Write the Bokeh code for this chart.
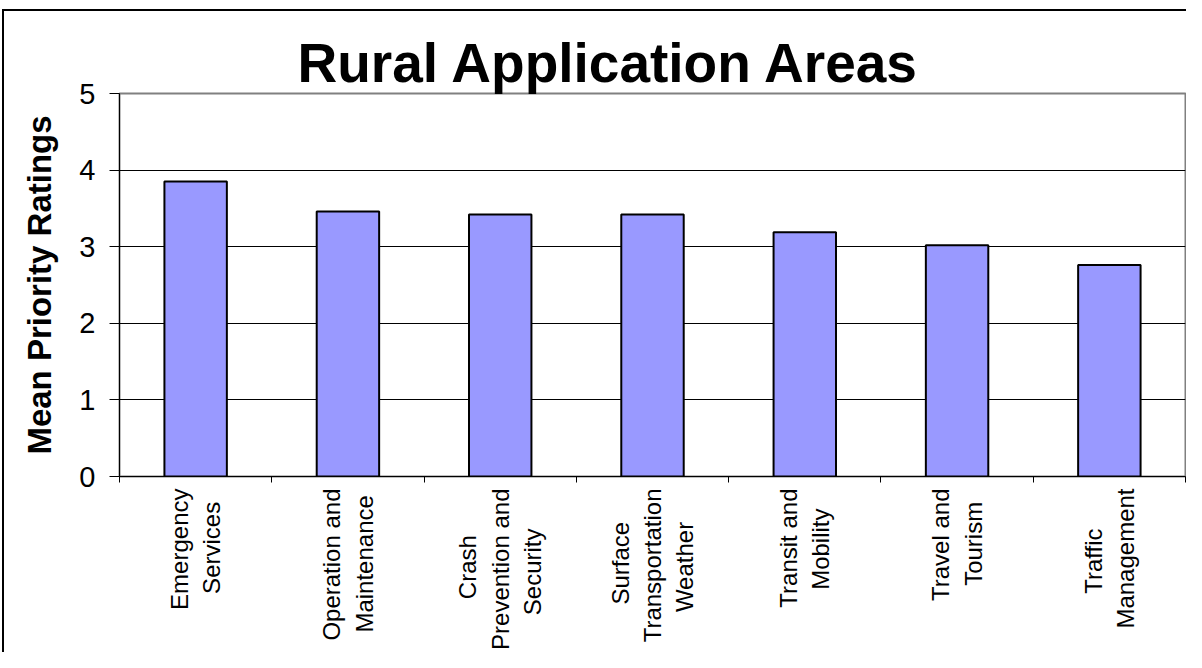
import numpy as np
from bokeh.plotting import figure
from bokeh.models import Range1d, FixedTicker, ColumnDataSource
from bokeh.embed import file_html
from bokeh.resources import INLINE

title_text = "Rural Application Areas"
y_title = "Mean Priority Ratings"
categories = [
    "Emergency\nServices",
    "Operation and\nMaintenance",
    "Crash\nPrevention and\nSecurity",
    "Surface\nTransportation\nWeather",
    "Transit and\nMobility",
    "Travel and\nTourism",
    "Traffic\nManagement",
]
values = [3.85, 3.46, 3.42, 3.42, 3.19, 3.02, 2.76]
y_ticks = [0, 1, 2, 3, 4, 5]

n = len(categories)
xs = np.arange(n) + 0.5

# Approximate Arial / Liberation Sans advance widths (1/1000 em), used only to
# centre the lines of the multi-line rotated tick labels within each block.
_W = {"a": 556, "b": 556, "c": 500, "d": 556, "e": 556, "f": 278, "g": 556, "h": 556,
      "i": 222, "l": 222, "m": 833, "n": 556, "o": 556, "p": 556, "r": 333, "s": 500,
      "t": 278, "u": 556, "v": 500, "y": 500, "C": 722, "E": 667, "M": 833, "O": 778,
      "P": 667, "S": 667, "T": 611, "W": 944, " ": 278}
NBSP = "\u00a0"


def centred(label):
    lines = label.split("\n")
    widths = [sum(_W.get(ch, 556) for ch in ln) for ln in lines]
    wmax = max(widths)
    out = []
    for ln, w in zip(lines, widths):
        k = int(round((wmax - w) / 2 / _W[" "]))
        out.append(ln + NBSP * k)
    return "\n".join(out)


p = figure(width=1186, height=652, output_backend="svg", toolbar_location=None,
           x_range=Range1d(0, n), y_range=Range1d(0, 5),
           min_border_left=119, min_border_right=1, min_border_top=93, min_border_bottom=173)
p.background_fill_color = "white"
p.border_fill_color = None
p.styles = {
    "background": "linear-gradient(#000, #000) 2px 9px / 2px 100% no-repeat, "
                  "linear-gradient(#000, #000) 2px 9px / 100% 2px no-repeat, #ffffff"
}
p.outline_line_color = "#808080"
p.outline_line_width = 2

src = ColumnDataSource(dict(x=xs, top=values))
p.vbar(x="x", top="top", width=0.41, bottom=0, source=src,
       fill_color="#9999FF", line_color="black", line_width=2)

# title
p.title.text = title_text
p.title.align = "left"
p.title.offset = 178
p.title.standoff = 0
p.title.text_font = "Liberation Sans"
p.title.text_font_style = "bold"
p.title.text_font_size = "55px"
p.title.text_color = "black"

# grid
p.xgrid.visible = False
p.ygrid.ticker = FixedTicker(ticks=y_ticks[1:-1])
p.ygrid.grid_line_color = "black"
p.ygrid.grid_line_width = 1

# y axis
p.yaxis.ticker = FixedTicker(ticks=y_ticks)
p.yaxis.minor_tick_line_color = None
p.yaxis.major_tick_out = 10
p.yaxis.major_tick_in = 0
p.yaxis.major_tick_line_color = "black"
p.yaxis.axis_line_color = "black"
p.yaxis.major_label_text_font = "Liberation Sans"
p.yaxis.major_label_text_font_size = "29px"
p.yaxis.major_label_text_color = "black"
p.yaxis.major_label_standoff = 14
p.yaxis.axis_label = y_title
p.yaxis.axis_label_text_font = "Liberation Sans"
p.yaxis.axis_label_text_font_style = "bold"
p.yaxis.axis_label_text_font_size = "33px"
p.yaxis.axis_label_text_color = "black"
p.yaxis.axis_label_standoff = 18

# x axis: labels at category centres, ticks at category boundaries
p.xaxis.ticker = FixedTicker(ticks=list(xs), minor_ticks=list(range(n + 1)))
p.xaxis.major_label_overrides = {float(x): centred(c) for x, c in zip(xs, categories)}
p.xaxis.major_label_orientation = np.pi / 2
p.xaxis.major_tick_line_color = None
p.xaxis.major_tick_out = 6
p.xaxis.major_tick_in = 0
p.xaxis.minor_tick_line_color = "black"
p.xaxis.minor_tick_out = 6
p.xaxis.minor_tick_in = 0
p.xaxis.axis_line_color = "black"
p.xaxis.major_label_standoff = 6
p.xaxis.major_label_text_font = "Liberation Sans"
p.xaxis.major_label_text_font_size = "24px"
p.xaxis.major_label_text_color = "black"

open("out.html", "w").write(file_html(p, INLINE))
